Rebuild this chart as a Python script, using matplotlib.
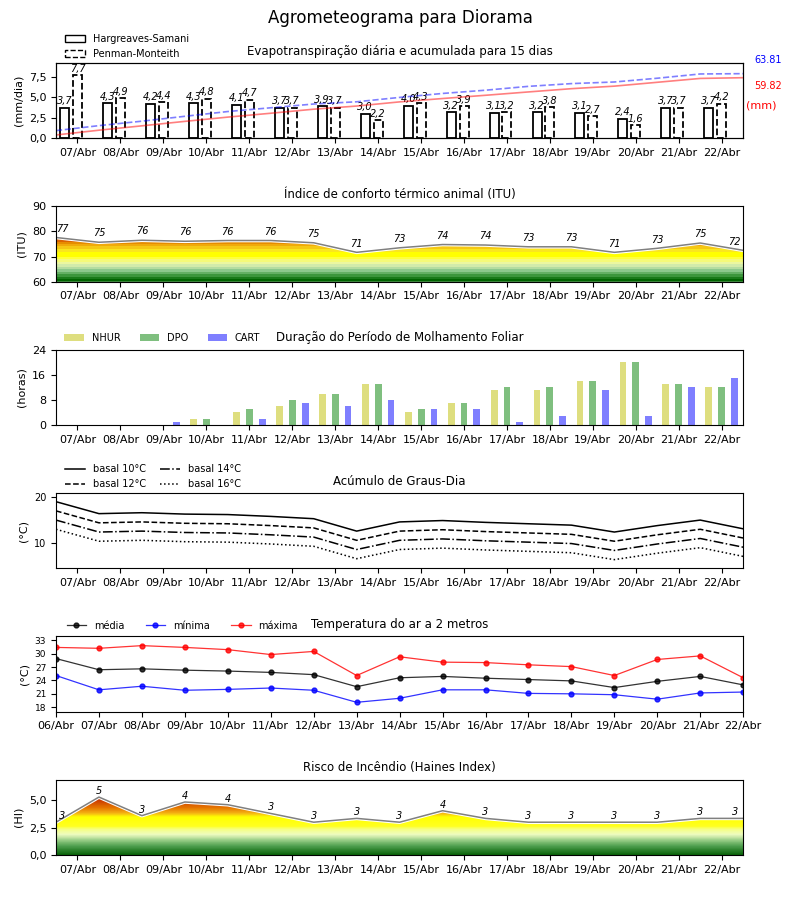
import numpy as np
import matplotlib.pyplot as plt
from matplotlib.colors import ListedColormap, BoundaryNorm, LinearSegmentedColormap
from matplotlib.patches import Patch
from matplotlib.ticker import FuncFormatter

# ==========================
# Dados
# ==========================
dias = ["06/Abr", "07/Abr", "08/Abr", "09/Abr", "10/Abr", "11/Abr", "12/Abr",
        "13/Abr", "14/Abr", "15/Abr", "16/Abr", "17/Abr", "18/Abr", "19/Abr",
        "20/Abr", "21/Abr", "22/Abr"]

# evapotranspiração diária (mm/dia), 07/Abr a 22/Abr
et_hs = [3.7, 4.3, 4.2, 4.3, 4.1, 3.7, 3.9, 3.0, 4.0, 3.2, 3.1, 3.2, 3.1, 2.4, 3.7, 3.7]
et_pm = [7.7, 4.9, 4.4, 4.8, 4.7, 3.7, 3.7, 2.2, 4.3, 3.9, 3.2, 3.8, 2.7, 1.6, 3.7, 4.2]
# acumulados (mm)
acum_hs = [3.4, 8.1, 12.4, 16.8, 21.0, 24.8, 28.8, 31.9, 36.0, 39.3, 42.5,
           45.8, 49.0, 51.5, 55.3, 59.1, 59.82]
acum_pm = [7.7, 12.6, 17.0, 21.8, 26.5, 30.2, 33.9, 36.1, 40.4, 44.3, 47.5,
           51.3, 54.0, 55.6, 59.3, 63.5, 63.81]

# ITU
itu = [77.6, 75.7, 76.5, 76.1, 76.4, 76.4, 75.5, 71.7, 73.5, 74.8, 74.6,
       73.9, 73.9, 71.7, 73.3, 75.4, 72.5]

# molhamento foliar (horas), 07/Abr a 22/Abr
nhur = [0, 0, 0, 2, 4, 6, 10, 13, 4, 7, 11, 11, 14, 20, 13, 12]
dpo = [0, 0, 0, 2, 5, 8, 10, 13, 5, 7, 12, 12, 14, 20, 13, 12]
cart = [0, 0, 1, 0, 2, 7, 6, 8, 5, 5, 1, 3, 11, 3, 12, 15]

# graus-dia
gd10 = [19.0, 16.4, 16.6, 16.3, 16.2, 15.8, 15.3, 12.6, 14.6, 14.9, 14.5,
        14.2, 13.9, 12.4, 13.8, 15.0, 13.1]
gd12 = [17.0, 14.4, 14.6, 14.3, 14.2, 13.8, 13.3, 10.6, 12.6, 12.9, 12.5,
        12.2, 11.9, 10.4, 11.8, 13.0, 11.1]
gd14 = [15.0, 12.4, 12.6, 12.3, 12.2, 11.8, 11.3, 8.6, 10.6, 10.9, 10.5,
        10.2, 9.9, 8.4, 9.8, 11.0, 9.1]
gd16 = [13.0, 10.4, 10.6, 10.3, 10.2, 9.8, 9.3, 6.6, 8.6, 8.9, 8.5,
        8.2, 7.9, 6.4, 7.8, 9.0, 7.1]

# temperatura do ar (°C)
t_med = [28.9, 26.4, 26.6, 26.3, 26.1, 25.8, 25.3, 22.6, 24.6, 24.9, 24.5,
         24.2, 23.9, 22.4, 23.8, 24.9, 23.0]
t_min = [25.1, 21.9, 22.7, 21.8, 22.0, 22.3, 21.8, 19.1, 20.0, 21.9, 21.9,
         21.1, 21.0, 20.8, 19.8, 21.2, 21.4]
t_max = [31.4, 31.2, 31.8, 31.4, 30.9, 29.8, 30.5, 25.1, 29.3, 28.1, 28.0,
         27.5, 27.1, 25.1, 28.7, 29.5, 24.6]

# Haines
haines = [3.0, 5.3, 3.6, 4.85, 4.6, 3.8, 3.0, 3.35, 3.0, 4.05, 3.35,
          3.0, 3.0, 3.0, 3.0, 3.35, 3.35]

# ==========================
# Auxiliares
# ==========================
x = np.arange(len(dias))
xc = np.arange(len(dias) - 1) + 0.5
virgula = FuncFormatter(lambda v, p: f"{v:.1f}".replace(".", ","))


def eixo_dias(ax):
    ax.set_xlim(0, len(dias) - 1)
    ax.set_xticks(xc)
    ax.set_xticklabels(dias[1:], fontsize=8)
    ax.tick_params(axis="y", labelsize=8)


def preenche(ax, y, base, cmap, norm, topo):
    poly = ax.fill_between(x, base, y, facecolor="none", edgecolor="none")
    grad = np.linspace(base, topo, 400).reshape(-1, 1)
    im = ax.imshow(grad, cmap=cmap, norm=norm, origin="lower", aspect="auto",
                   extent=[0, len(dias) - 1, base, topo], interpolation="nearest")
    im.set_clip_path(poly.get_paths()[0], transform=ax.transData)
    ax.plot(x, y, color="white", lw=2.6)
    ax.plot(x, y, color="gray", lw=1.1)


def rotulos(ax, y, dy):
    for i, v in enumerate(y):
        xi = i
        if i == 0:
            xi = 0.15
        elif i == len(y) - 1:
            xi = i - 0.2
        ax.text(xi, v + dy, str(int(v)), ha="center", va="center",
                fontsize=7, style="italic")


fig, axs = plt.subplots(6, 1, figsize=(8, 9), dpi=100)
fig.subplots_adjust(left=0.07, right=0.929, top=0.93, bottom=0.05, hspace=0.9)
fig.suptitle("Agrometeograma para Diorama", fontsize=12, y=0.99)

# ==========================
# Evapotranspiração
# ==========================
ax = axs[0]
ax.bar(xc - 0.3, et_hs, width=0.21, facecolor="white", edgecolor="black", lw=1.3)
ax.bar(xc, et_pm, width=0.21, facecolor="white", edgecolor="black", lw=1.3,
       linestyle="--")
for i in range(len(xc)):
    ax.text(xc[i] - 0.3, et_hs[i] + 0.2, f"{et_hs[i]:.1f}".replace(".", ","),
            ha="center", va="bottom", fontsize=7, style="italic")
    ax.text(xc[i], et_pm[i] + 0.2, f"{et_pm[i]:.1f}".replace(".", ","),
            ha="center", va="bottom", fontsize=7, style="italic")
ax.set_ylim(0, 9.2)
ax.set_yticks([0, 2.5, 5, 7.5])
ax.yaxis.set_major_formatter(virgula)
ax.set_ylabel("(mm/dia)", fontsize=8)
ax.set_title("Evapotranspiração diária e acumulada para 15 dias", fontsize=8.5)
eixo_dias(ax)
ax2 = ax.twinx()
ax2.plot(x, acum_pm, "b--", alpha=0.5, lw=1.2)
ax2.plot(x, acum_hs, "r-", alpha=0.5, lw=1.2)
ax2.set_ylim(0, 74.3)
ax2.set_yticks([])
ax.text(1.016, 1.04, f"{acum_pm[-1]:.2f}", transform=ax.transAxes, color="blue",
        fontsize=7, va="center")
ax.text(1.016, 0.7, f"{acum_hs[-1]:.2f}", transform=ax.transAxes, color="red",
        fontsize=7, va="center")
ax.text(1.004, 0.43, "(mm)", transform=ax.transAxes, color="red",
        fontsize=8, va="center")
leg = [Patch(facecolor="white", edgecolor="black", label="Hargreaves-Samani"),
       Patch(facecolor="white", edgecolor="black", linestyle="--",
             label="Penman-Monteith")]
ax.legend(handles=leg, loc="lower left", bbox_to_anchor=(0.008, 1.0),
          fontsize=7, frameon=False, borderaxespad=0, handlelength=2.0)

# ==========================
# ITU
# ==========================
ax = axs[1]
cores_itu = ["#006400", "#1a7a1a", "#3c963c", "#64b064", "#8cc88c", "#b4dca0",
             "#d2ebaa", "#ebf7a0", "#f5fa78", "#ffff3c", "#ffff00", "#ffff00",
             "#fae61e", "#f5c814", "#f0aa0a", "#e68c00", "#dc6400", "#d23200",
             "#c80000", "#b40000"]
cmap_itu = ListedColormap(cores_itu)
norm_itu = BoundaryNorm(np.arange(60, 81), len(cores_itu))
preenche(ax, itu, 60, cmap_itu, norm_itu, 90)
rotulos(ax, itu, 3.5)
ax.set_ylim(60, 90)
ax.set_yticks([60, 70, 80, 90])
ax.set_ylabel("(ITU)", fontsize=8)
ax.set_title("Índice de conforto térmico animal (ITU)", fontsize=8.5)
eixo_dias(ax)

# ==========================
# Molhamento foliar
# ==========================
ax = axs[2]
ax.bar(xc - 0.3, nhur, width=0.16, color="y", alpha=0.5, label="NHUR")
ax.bar(xc, dpo, width=0.16, color="g", alpha=0.5, label="DPO")
ax.bar(xc + 0.3, cart, width=0.16, color="b", alpha=0.5, label="CART")
ax.set_ylim(0, 24)
ax.set_yticks([0, 8, 16, 24])
ax.set_ylabel("(horas)", fontsize=8)
ax.set_title("Duração do Período de Molhamento Foliar", fontsize=8.5)
ax.legend(loc="lower left", bbox_to_anchor=(0.005, 1.02), ncol=3, fontsize=7,
          frameon=False, borderaxespad=0.1, columnspacing=2.0)
eixo_dias(ax)

# ==========================
# Graus-dia
# ==========================
ax = axs[3]
ax.plot(x, gd10, "k-", lw=1.1, label="basal 10°C")
ax.plot(x, gd12, "k--", lw=1.1, label="basal 12°C")
ax.plot(x, gd14, "k-.", lw=1.1, label="basal 14°C")
ax.plot(x, gd16, "k:", lw=1.1, label="basal 16°C")
ax.set_ylim(4.5, 20.9)
ax.set_yticks([10, 20])
ax.set_ylabel("(°C)", fontsize=8)
ax.set_title("Acúmulo de Graus-Dia", fontsize=8.5)
ax.legend(loc="lower left", bbox_to_anchor=(0.008, 1.0), ncol=2, fontsize=7,
          frameon=False, borderaxespad=0, columnspacing=1.5, handlelength=2.0)
eixo_dias(ax)
ax.tick_params(axis="y", labelsize=7)

# ==========================
# Temperatura
# ==========================
ax = axs[4]
ax.plot(x, t_med, "o-", color="k", ms=3.5, lw=0.9, alpha=0.8, label="média")
ax.plot(x, t_min, "o-", color="b", ms=3.5, lw=0.9, alpha=0.8, label="mínima")
ax.plot(x, t_max, "o-", color="r", ms=3.5, lw=0.9, alpha=0.8, label="máxima")
ax.set_xlim(0, len(dias) - 1)
ax.set_xticks(x)
ax.set_xticklabels(dias, fontsize=8)
ax.set_ylim(17, 33.9)
ax.set_yticks([18, 21, 24, 27, 30, 33])
ax.tick_params(axis="y", labelsize=6.5)
ax.set_ylabel("(°C)", fontsize=8)
ax.set_title("Temperatura do ar a 2 metros", fontsize=8.5)
ax.legend(loc="lower left", bbox_to_anchor=(0.01, 1.02), ncol=3, fontsize=7,
          frameon=False, borderaxespad=0, columnspacing=2.2)

# ==========================
# Haines
# ==========================
ax = axs[5]
cmap_hi = LinearSegmentedColormap.from_list(
    "haines",
    [(0.0, "#0a640a"), (0.12, "#50a050"), (0.2, "#a0d28c"), (0.27, "#eefcc0"),
     (0.34, "#f5ff80"), (0.38, "#ffff20"), (0.5, "#ffff00"), (0.55, "#f5b414"),
     (0.62, "#e67800"), (0.72, "#cc3c00"), (1.0, "#b40000")])
norm_hi = plt.Normalize(0, 6.9)
preenche(ax, haines, 0, cmap_hi, norm_hi, 6.9)
rotulos(ax, haines, 0.55)
ax.set_ylim(0, 6.9)
ax.set_yticks([0, 2.5, 5])
ax.yaxis.set_major_formatter(virgula)
ax.set_ylabel("(HI)", fontsize=8)
ax.set_title("Risco de Incêndio (Haines Index)", fontsize=8.5)
eixo_dias(ax)

plt.savefig("out.png", dpi=100)
plt.close()
